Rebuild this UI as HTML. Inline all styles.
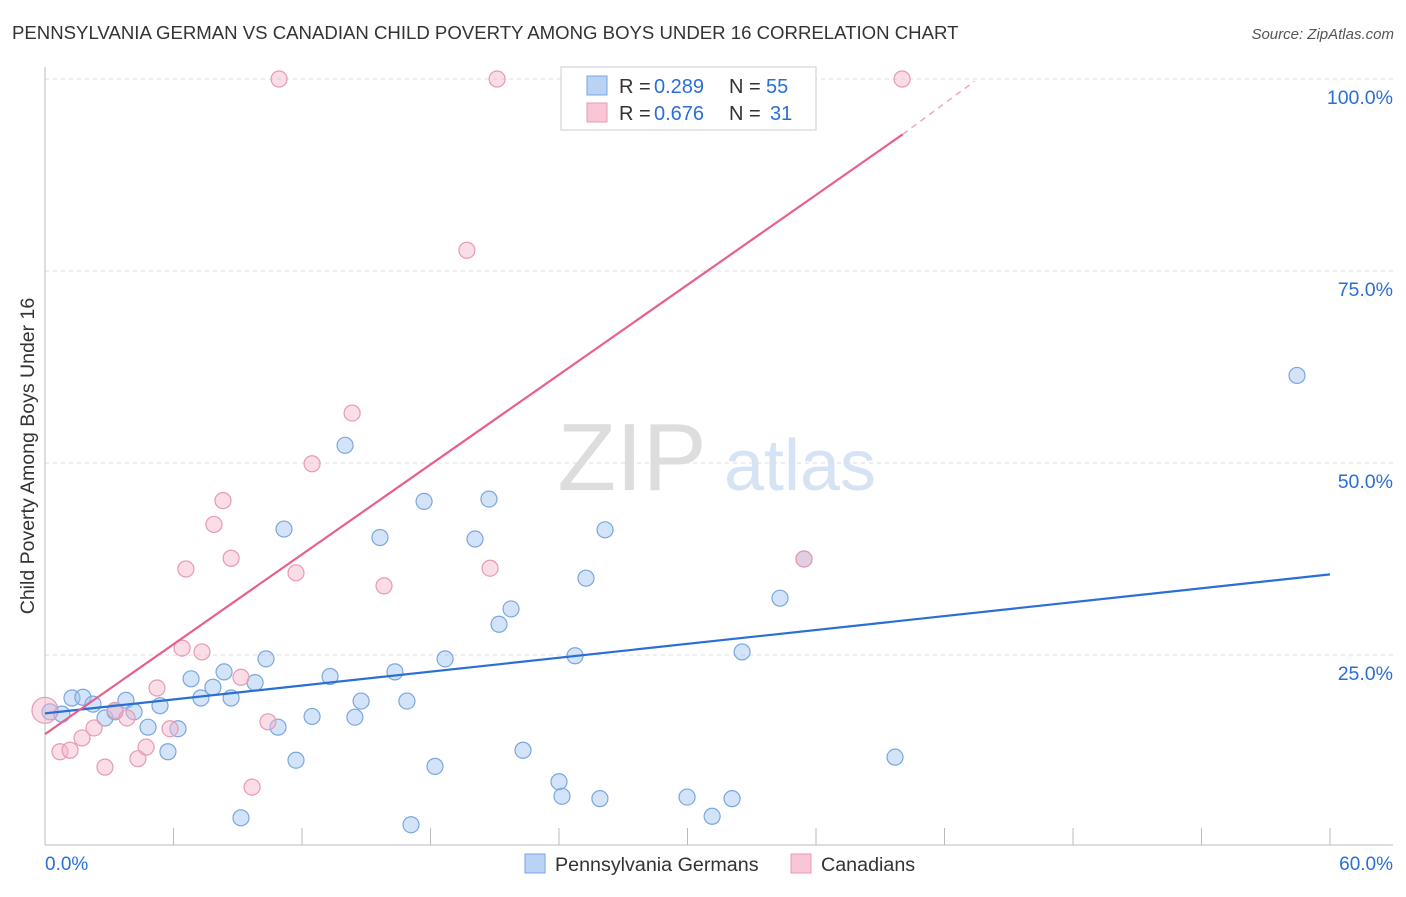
<!DOCTYPE html>
<html><head><meta charset="utf-8"><style>
body{margin:0;background:#fff;font-family:"Liberation Sans",sans-serif;}
svg text{font-family:"Liberation Sans",sans-serif;}
</style></head><body>
<svg width="1406" height="892" xmlns="http://www.w3.org/2000/svg" id="chart">
<text x="12" y="39" font-size="18.6" fill="#333">PENNSYLVANIA GERMAN VS CANADIAN CHILD POVERTY AMONG BOYS UNDER 16 CORRELATION CHART</text>
<text x="1394" y="39" font-size="15" fill="#555" text-anchor="end" font-style="italic">Source: ZipAtlas.com</text>
<text x="632" y="490" font-size="96" fill="#ddd" font-family="Liberation Serif" text-anchor="middle">ZIP</text>
<text x="800" y="490" font-size="72" fill="#d6e3f5" text-anchor="middle">atlas</text>
<text transform="translate(34,456) rotate(-90)" font-size="19.5" fill="#333" text-anchor="middle">Child Poverty Among Boys Under 16</text>
<g id="grid"></g><g id="marks"></g>
<g>
<rect x="561" y="67" width="255" height="63" fill="#fff" stroke="#ccc"/>
<rect x="587" y="76" width="20" height="19" fill="#b9d3f5" stroke="#7aa6e0"/>
<rect x="587" y="103" width="20" height="19" fill="#f9c6d6" stroke="#e79ab3"/>
<text x="619" y="93" font-size="20" fill="#333">R =</text>
<text x="654" y="93" font-size="20" fill="#2a6fd6">0.289</text>
<text x="729" y="93" font-size="20" fill="#333">N =</text>
<text x="766" y="93" font-size="20" fill="#2a6fd6">55</text>
<text x="619" y="120" font-size="20" fill="#333">R =</text>
<text x="654" y="120" font-size="20" fill="#2a6fd6">0.676</text>
<text x="729" y="120" font-size="20" fill="#333">N =</text>
<text x="770" y="120" font-size="20" fill="#2a6fd6">31</text>
</g>
<g>
<rect x="525" y="854" width="20" height="19" fill="#b9d3f5" stroke="#7aa6e0"/>
<text x="555" y="871" font-size="19.7" fill="#333">Pennsylvania Germans</text>
<rect x="791" y="854" width="20" height="19" fill="#f9c6d6" stroke="#e79ab3"/>
<text x="821" y="871" font-size="19.7" fill="#333">Canadians</text>
</g>
<text x="45" y="870" font-size="19" fill="#2a6fd6">0.0%</text>
<text x="1393" y="870" font-size="19" fill="#2a6fd6" text-anchor="end">60.0%</text>
</svg>
<script>
const yTicks=[25,50,75,100];
const blueX=[0.23,0.79,1.26,1.77,2.24,2.8,3.27,3.78,4.16,4.81,5.37,5.74,6.21,6.82,7.28,7.84,8.36,8.69,9.81,10.32,10.88,11.16,11.72,12.47,13.31,14.01,14.47,14.76,15.64,16.34,16.9,17.09,17.7,18.21,18.68,20.08,20.73,21.2,21.76,22.32,24.0,24.14,24.75,25.26,25.91,26.15,29.98,31.15,32.08,32.55,34.32,35.44,39.69,58.46,9.15];
const blueY=[17.6,17.3,19.4,19.5,18.6,16.8,17.6,19.1,17.6,15.6,18.4,12.4,15.4,21.9,19.4,20.8,22.8,19.4,21.4,24.5,15.6,41.4,11.3,17.0,22.2,52.3,16.9,19.0,40.3,22.8,19.0,2.9,45.0,10.5,24.5,40.1,45.3,29.0,31.0,12.6,8.5,6.6,24.9,35.0,6.3,41.3,6.5,4.0,6.3,25.4,32.4,37.5,11.7,61.4,3.8];
const pinkX=[0,0.7,1.17,1.73,2.29,2.8,3.27,3.83,4.34,4.72,5.23,5.84,6.4,6.58,7.33,7.89,8.31,8.69,9.15,9.67,10.41,10.93,11.72,12.47,14.34,15.83,19.7,20.78,21.11,35.44,40.02];
const pinkY=[17.8,12.4,12.6,14.2,15.5,10.4,17.8,16.8,11.5,13.0,20.7,15.4,25.9,36.2,25.4,42.0,45.1,37.6,22.1,7.8,16.3,100,35.7,49.9,56.5,34.0,77.7,36.3,100,37.5,100];
const blueLine=[17.4,35.5];
const pinkLine=[14.7,92.8,99.7];
const xs=v=>45+v/60*1285, ys=v=>847-v*7.68;
const NS="http://www.w3.org/2000/svg";
const grid=document.getElementById('grid'),marks=document.getElementById('marks');
function mk(tag,attrs,parent){const e=document.createElementNS(NS,tag);for(const k in attrs)e.setAttribute(k,attrs[k]);parent.appendChild(e);return e;}
yTicks.forEach(t=>{
 const l=mk('line',{x1:45,x2:1393,y1:ys(t),y2:ys(t),stroke:'#ddd','stroke-dasharray':'4,4'},grid);
 
 
 const tx=mk('text',{x:1393,y:ys(t)+25,'font-size':19.5,fill:'#2a6fd6','text-anchor':'end'},grid);
 tx.textContent=t.toFixed(1)+'%';
 
 
});
const ax=mk('line',{x1:45,x2:1393,y1:845,y2:845,stroke:'#bbb'},grid);


const ay=mk('line',{x1:45,x2:45,y1:67,y2:845,stroke:'#bbb'},grid);


for(let i=0;i<=10;i++){
 const t=mk('line',{x1:xs(i*6),x2:xs(i*6),y1:828,y2:845,stroke:'#bbb'},grid);
 
 
}
blueX.forEach((v,i)=>{
 const c=mk('circle',{cx:xs(v),cy:ys(blueY[i]),r:8,fill:'rgba(160,195,240,0.45)',stroke:'#7aa6e0','stroke-width':1.2},marks);
 
 
});
pinkX.forEach((v,i)=>{
 const c=mk('circle',{cx:xs(v),cy:ys(pinkY[i]),r:i==0?13:8,fill:'rgba(245,180,200,0.45)',stroke:'#e79ab3','stroke-width':1.2},marks);
 
 
});
const bl=mk('line',{x1:xs(0),y1:ys(blueLine[0]),x2:xs(60),y2:ys(blueLine[1]),stroke:'#2a6fd6','stroke-width':2.2},marks);


const pl=mk('line',{x1:xs(0),y1:ys(pinkLine[0]),x2:xs(40.05),y2:ys(pinkLine[1]),stroke:'#e8608a','stroke-width':2.2},marks);


const pd=mk('line',{x1:xs(40.05),y1:ys(pinkLine[1]),x2:xs(43.4),y2:ys(pinkLine[2]),stroke:'#f0a8bf','stroke-width':1.5,'stroke-dasharray':'6,5'},marks);


</script>
</body></html>
